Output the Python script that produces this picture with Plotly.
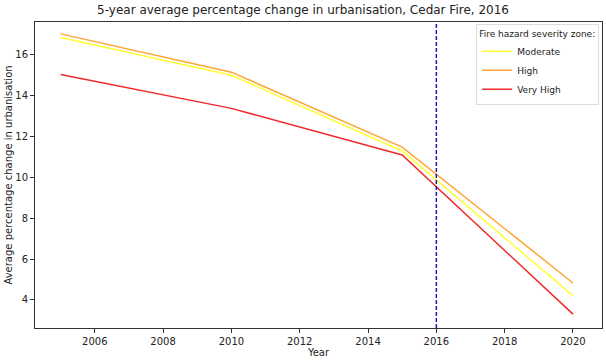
import plotly.graph_objects as go

years = [2005, 2010, 2015, 2020]
moderate = [16.82, 14.98, 11.28, 4.21]
high = [17.0, 15.13, 11.47, 4.83]
very_high = [15.02, 13.36, 11.08, 3.31]
fire_year = 2016

series = [("Moderate", moderate, "#ffff33"), ("High", high, "#ffa533"), ("Very High", very_high, "#ee2a2a")]

fig = go.Figure()
for name, vals, col in series:
    fig.add_trace(go.Scatter(x=years, y=vals, mode="lines", name=name,
                             line=dict(color=col, width=1.5)))

fig.add_shape(type="line", x0=fire_year, x1=fire_year, xref="x", y0=0, y1=1, yref="paper",
              line=dict(color="#1a1ab0", width=1.5, dash="4px,2px"))

axis_common = dict(showline=True, linecolor="#333", linewidth=1, mirror=True,
                   ticks="outside", ticklen=4, tickcolor="#333", showgrid=False, zeroline=False,
                   tickfont=dict(size=10, color="#222"))

fig.update_layout(
    width=606, height=361,
    margin=dict(l=35, r=4, t=22, b=33),
    paper_bgcolor="white", plot_bgcolor="white",
    font=dict(family="DejaVu Sans", size=10, color="#222"),
    title=dict(text="5-year average percentage change in urbanisation, Cedar Fire, 2016",
               x=0.5, xanchor="center", y=0.972, yanchor="middle", font=dict(size=12)),
    xaxis=dict(range=[2004.25, 2020.85], tickvals=list(range(2006, 2021, 2)),
               title=dict(text="Year", font=dict(size=10), standoff=2), **axis_common),
    yaxis=dict(range=[2.63, 17.58], tickvals=list(range(4, 17, 2)),
               title=dict(text="Average percentage change in urbanisation", font=dict(size=10), standoff=0),
               **axis_common),
    legend=dict(title=dict(text="Fire hazard severity zone:", side="top", font=dict(size=9)),
                x=0.995, xanchor="right", y=0.993, yanchor="top",
                bgcolor="rgba(255,255,255,0.9)", bordercolor="#ddd", borderwidth=1,
                font=dict(size=9), tracegroupgap=0, itemwidth=30),
    showlegend=True,
)

fig.write_html("out.html", config={"displayModeBar": False},
               post_script="document.body.style.margin='0';document.body.style.padding='0';")
